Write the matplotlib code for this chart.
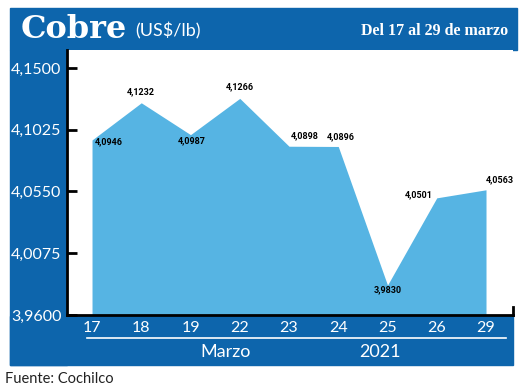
import matplotlib
matplotlib.use("Agg")
import matplotlib.pyplot as plt
from matplotlib.patches import Rectangle
from matplotlib.lines import Line2D

days = ["17", "18", "19", "22", "23", "24", "25", "26", "29"]
prices = [4.0946, 4.1232, 4.0987, 4.1266, 4.0898, 4.0896, 3.9830, 4.0501, 4.0563]
labels = ["4,0946", "4,1232", "4,0987", "4,1266", "4,0898", "4,0896", "3,9830", "4,0501", "4,0563"]
yticks = [3.9600, 4.0075, 4.0550, 4.1025, 4.1500]
ytick_labels = ["3,9600", "4,0075", "4,0550", "4,1025", "4,1500"]
# label offsets in points (dx, dy) and alignment
label_pos = [(2, -1, "left", "center"), (0, 5, "center", "bottom"), (1, -1, "center", "top"),
             (0, 5, "center", "bottom"), (1, 4, "left", "bottom"), (2, 4, "center", "bottom"),
             (0, 0, "center", "top"), (-3, 2, "right", "center"), (0, 4, "left", "bottom")]

W, H = 520, 392
fig = plt.figure(figsize=(W / 100, H / 100), dpi=100, facecolor="white")

def fx(px):
    return px / W

def fy(py):
    return 1 - py / H

BLUE = "#0d65ac"
FILL = "#56b4e3"

# title bar
fig.patches.append(Rectangle((fx(10), fy(50)), fx(517) - fx(10), fy(8) - fy(50),
                             transform=fig.transFigure, color=BLUE, zorder=-5))
# left column
fig.patches.append(Rectangle((fx(10), fy(365)), fx(67) - fx(10), fy(50) - fy(365),
                             transform=fig.transFigure, color=BLUE, zorder=-5))
# bottom band
fig.patches.append(Rectangle((fx(10), fy(365)), fx(513) - fx(10), fy(316) - fy(365),
                             transform=fig.transFigure, color=BLUE, zorder=-5))

ax = fig.add_axes([fx(67), fy(315), fx(513) - fx(67), fy(50) - fy(315)])
ax.set_zorder(1)
ax.set_facecolor("white")
x = list(range(len(days)))
ax.fill_between(x, prices, 3.96, color=FILL, linewidth=0, zorder=2)
ax.set_xlim(-0.508, 8.548)
ax.set_ylim(3.96, 4.1638)

for i, (v, lab) in enumerate(zip(prices, labels)):
    dx, dy, ha, va = label_pos[i]
    ax.annotate(lab, (i, v), xytext=(dx, dy), textcoords="offset points",
                ha=ha, va=va, fontsize=6.5, fontweight="bold",
                family="Roboto", color="black", zorder=5)

ax.set_yticks(yticks)
ax.set_yticklabels(ytick_labels)
ax.set_xticks(x)
ax.set_xticklabels(days)
ax.set_xticks([5.5], minor=True)
for s in ["top", "right"]:
    ax.spines[s].set_visible(False)
ax.spines["left"].set_linewidth(2)
ax.spines["bottom"].set_linewidth(2)
ax.tick_params(axis="y", direction="in", length=7, width=2, pad=4,
               labelcolor="white", labelsize=11.5)
ax.tick_params(axis="x", which="major", length=0, pad=4, labelcolor="white", labelsize=11.5)
ax.tick_params(axis="x", which="minor", direction="in", length=2, width=1.5)
for t in ax.get_xticklabels() + ax.get_yticklabels():
    t.set_family("Lato")

# right-end small tick
ax.add_line(Line2D([1, 1], [0, 0.03], transform=ax.transAxes, color="black",
                   linewidth=2, clip_on=False))

# white rule and bottom labels
fig.add_artist(Line2D([fx(87), fx(506)], [fy(338), fy(338)], transform=fig.transFigure,
                      color="white", linewidth=1.2))
fig.text(fx(226), fy(352), "Marzo", color="white", fontsize=13, family="Lato",
         ha="center", va="center")
fig.text(fx(380), fy(352), "2021", color="white", fontsize=13, family="Lato",
         ha="center", va="center")

# title
fig.text(fx(21), fy(30), "Cobre", color="white", fontsize=23, fontweight="bold",
         family="DejaVu Serif", ha="left", va="center")
fig.text(fx(135), fy(31), "(US$/lb)", color="white", fontsize=13, family="Lato",
         ha="left", va="center")
fig.text(fx(508), fy(31), "Del 17 al 29 de marzo", color="white", fontsize=11.5,
         fontweight="bold", family="Liberation Serif", ha="right", va="center")

fig.text(fx(5), fy(379), "Fuente: Cochilco", color="#222222", fontsize=10.5,
         family="Lato", ha="left", va="center")

fig.savefig("out.png", dpi=100, facecolor="white")
